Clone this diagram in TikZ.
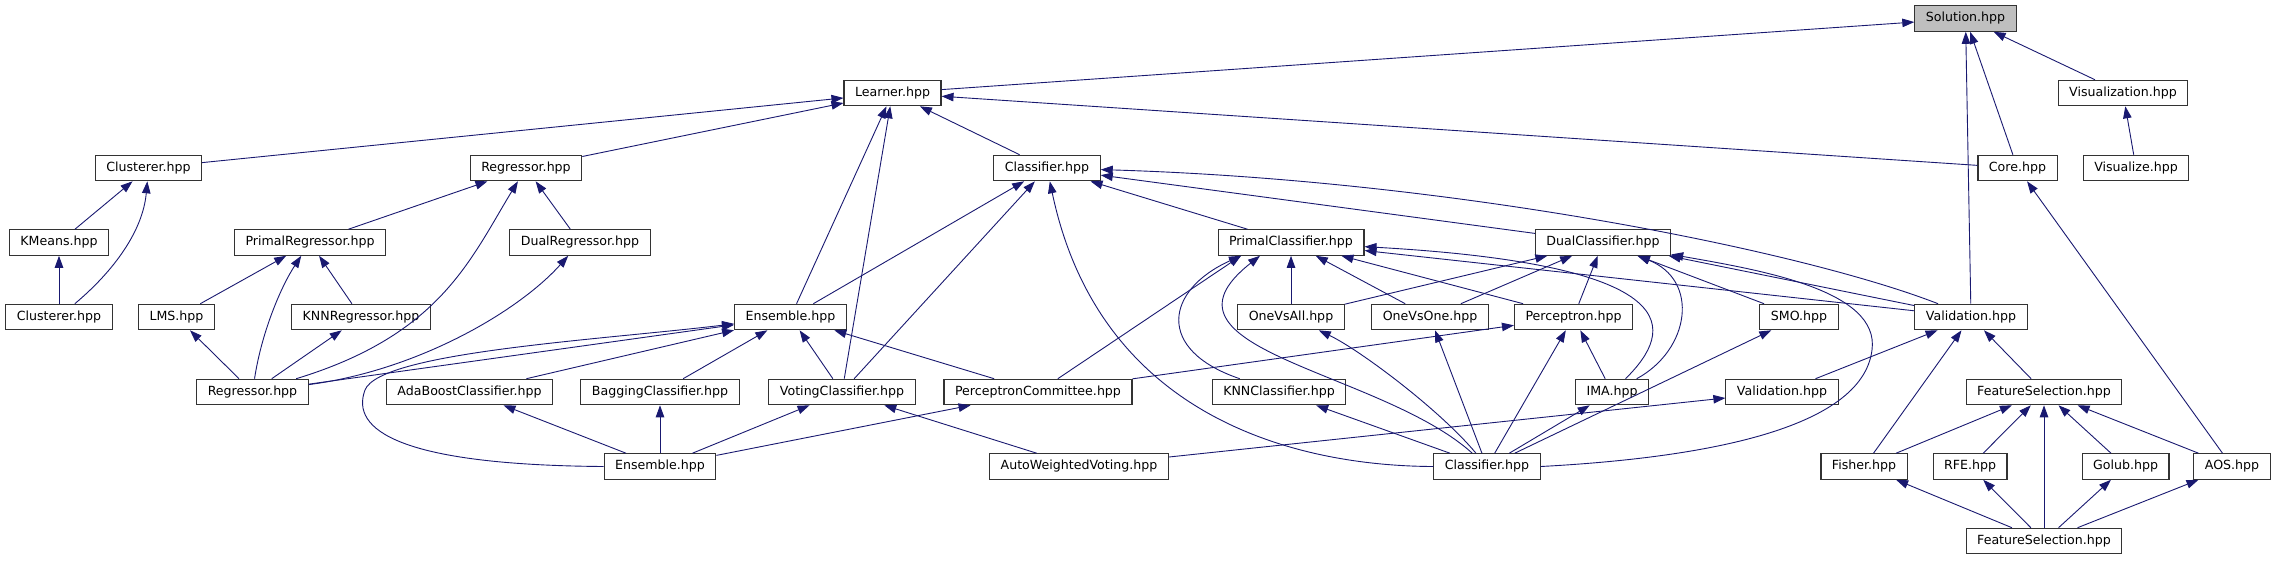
\documentclass[tikz,border=0pt]{standalone}
\usepackage{fontspec}
\setmainfont{DejaVu Sans}
\usepackage{tikz}
\usetikzlibrary{arrows.meta}
\definecolor{cEdge}{HTML}{191970}
\definecolor{cLine}{HTML}{333333}
\definecolor{cCur}{HTML}{BFBFBF}
\tikzset{
  >={Triangle[length=12pt,width=8.5pt]},
  hf/.style={draw=cLine, fill=white, line width=1.1pt, font=\fontsize{12.6}{15}\selectfont,
             inner xsep=11pt, inner ysep=0pt, minimum height=25.5pt},
  hcur/.style={hf, fill=cCur},
}

\begin{document}
\begin{tikzpicture}[x=1pt, y=-1pt,
   dep/.style={->, line width=0.9pt, cEdge}]
  \useasboundingbox (0,0) rectangle (2277,560);
  % rows of files, top to bottom
  \node[hcur] (sol)  at (1965.5,18.5) {Solution.hpp};
  \node[hf] (lrn)  at (892.5,93)  {Learner.hpp};
  \node[hf] (vizn) at (2123,93)   {Visualization.hpp};
  \node[hf] (clu)  at (148.5,168) {Clusterer.hpp};
  \node[hf] (reg)  at (526,168)   {Regressor.hpp};
  \node[hf] (cla)  at (1047,168)  {Classifier.hpp};
  \node[hf] (core) at (2017.5,168) {Core.hpp};
  \node[hf] (vize) at (2136,168)  {Visualize.hpp};
  \node[hf] (kmn)  at (59,242.5)  {KMeans.hpp};
  \node[hf] (preg) at (310,242.5) {PrimalRegressor.hpp};
  \node[hf] (dreg) at (580,242.5) {DualRegressor.hpp};
  \node[hf] (pcla) at (1291,242.5) {PrimalClassifier.hpp};
  \node[hf] (dcla) at (1603,242.5) {DualClassifier.hpp};
  \node[hf] (cluB) at (59,317)    {Clusterer.hpp};
  \node[hf] (lms)  at (176.5,317) {LMS.hpp};
  \node[hf] (knnr) at (361,317)   {KNNRegressor.hpp};
  \node[hf] (ens)  at (790.5,317) {Ensemble.hpp};
  \node[hf] (ova)  at (1291,317)  {OneVsAll.hpp};
  \node[hf] (ovo)  at (1430,317)  {OneVsOne.hpp};
  \node[hf] (perc) at (1573.5,317) {Perceptron.hpp};
  \node[hf] (smo)  at (1799,317)  {SMO.hpp};
  \node[hf] (val)  at (1971,317)  {Validation.hpp};
  \node[hf] (regB) at (252.5,392) {Regressor.hpp};
  \node[hf] (ada)  at (469.5,392) {AdaBoostClassifier.hpp};
  \node[hf] (bag)  at (660,392)   {BaggingClassifier.hpp};
  \node[hf] (vot)  at (842,392)   {VotingClassifier.hpp};
  \node[hf] (pcom) at (1038,392)  {PerceptronCommittee.hpp};
  \node[hf] (knnc) at (1279,392)  {KNNClassifier.hpp};
  \node[hf] (ima)  at (1612,392)  {IMA.hpp};
  \node[hf] (valB) at (1782,392)  {Validation.hpp};
  \node[hf] (fs)   at (2044,392)  {FeatureSelection.hpp};
  \node[hf] (ensB) at (660,466.5) {Ensemble.hpp};
  \node[hf] (awv)  at (1079,466.5) {AutoWeightedVoting.hpp};
  \node[hf] (claB) at (1487,466.5) {Classifier.hpp};
  \node[hf] (fis)  at (1864,466.5) {Fisher.hpp};
  \node[hf] (rfe)  at (1970,466.5) {RFE.hpp};
  \node[hf] (gol)  at (2125.5,466.5) {Golub.hpp};
  \node[hf] (aos)  at (2232,466.5) {AOS.hpp};
  \node[hf] (fsB)  at (2044,541)  {FeatureSelection.hpp};

  % Solution and Learner
  \draw[dep] (lrn) -- (sol);
  \draw[dep] (core) -- (sol);
  \draw[dep] (val) -- (sol);
  \draw[dep] (vizn) -- (sol);
  \draw[dep] (vize) -- (vizn);
  \draw[dep] (clu) -- (lrn);
  \draw[dep] (reg) -- (lrn);
  \draw[dep] (cla) -- (lrn);
  \draw[dep] (core) -- (lrn);
  \draw[dep] (ens) -- (lrn);
  \draw[dep] (vot) -- (lrn);
  % clustering and regression
  \draw[dep] (kmn) -- (clu);
  \draw[dep] (cluB) .. controls (115,270) and (143,230) .. (clu);
  \draw[dep] (cluB) -- (kmn);
  \draw[dep] (preg) -- (reg);
  \draw[dep] (dreg) -- (reg);
  \draw[dep] (regB) .. controls (440,335) and (470,260) .. (reg);
  \draw[dep] (lms) -- (preg);
  \draw[dep] (knnr) -- (preg);
  \draw[dep] (regB) .. controls (262,330) and (282,285) .. (preg);
  \draw[dep] (regB) -- (lms);
  \draw[dep] (regB) -- (knnr);
  \draw[dep] (regB) .. controls (420,370) and (520,310) .. (dreg);
  % ensembles
  \draw[dep] (ens) -- (cla);
  \draw[dep] (regB) -- (ens);
  \draw[dep] (ensB.west) .. controls (400,465) and (350,430) .. (365,390)
                         .. controls (380,352) and (600,340) .. (ens);
  \draw[dep] (ada) -- (ens);
  \draw[dep] (bag) -- (ens);
  \draw[dep] (vot) -- (ens);
  \draw[dep] (pcom) -- (ens);
  \draw[dep] (ensB) -- (ada);
  \draw[dep] (ensB) -- (bag);
  \draw[dep] (ensB) -- (vot);
  \draw[dep] (ensB) -- (pcom);
  \draw[dep] (vot) -- (cla);
  \draw[dep] (awv) -- (vot);
  \draw[dep] (awv) -- (valB);
  % classifiers
  \draw[dep] (pcla) -- (cla);
  \draw[dep] (dcla) -- (cla);
  \draw[dep] ([xshift=-33pt]val.north) .. controls (1800,250) and (1450,180) .. (cla);
  \draw[dep] (claB.west) .. controls (1300,466) and (1100,420) .. (cla);
  \draw[dep] (pcom) -- ([xshift=-50pt]pcla.south);
  \draw[dep] (knnc) .. controls (1155,350) and (1165,290) .. ([xshift=-50pt]pcla.south);
  \draw[dep] (claB) .. controls (1380,370) and (1140,350) .. ([xshift=-31pt]pcla.south);
  \draw[dep] (ova) -- (pcla);
  \draw[dep] (ovo) -- (pcla);
  \draw[dep] (perc) -- (pcla);
  \draw[dep] (ima) .. controls (1675,330) and (1690,265) .. (pcla);
  \draw[dep] (val) -- (pcla);
  \draw[dep] (ova) -- (dcla);
  \draw[dep] (ovo) -- (dcla);
  \draw[dep] (perc) -- (dcla);
  \draw[dep] (ima) .. controls (1690,350) and (1700,280) .. (dcla);
  \draw[dep] (smo) -- (dcla);
  \draw[dep] (val) -- (dcla);
  \draw[dep] (claB.east) .. controls (1700,458) and (1862,430) .. (1872,350)
                         .. controls (1880,290) and (1760,270) .. (dcla);
  \draw[dep] (pcom) -- (perc);
  \draw[dep] (ima) -- (perc);
  \draw[dep] (claB) -- (knnc);
  \draw[dep] (claB) .. controls (1440,410) and (1360,350) .. (ova);
  \draw[dep] (claB) -- (ovo);
  \draw[dep] (claB) -- (perc);
  \draw[dep] (claB) -- (ima);
  \draw[dep] (claB) -- (smo);
  % validation and feature selection
  \draw[dep] (valB) -- (val);
  \draw[dep] (fis) -- (val);
  \draw[dep] (fs) -- (val);
  \draw[dep] (fis) -- (fs);
  \draw[dep] (rfe) -- (fs);
  \draw[dep] (fsB) -- (fs);
  \draw[dep] (gol) -- (fs);
  \draw[dep] (aos) -- (fs);
  \draw[dep] (fsB) -- (fis);
  \draw[dep] (fsB) -- (rfe);
  \draw[dep] (fsB) -- (gol);
  \draw[dep] (fsB) -- (aos);
  \draw[dep] (aos) -- (core);
\end{tikzpicture}
\end{document}
